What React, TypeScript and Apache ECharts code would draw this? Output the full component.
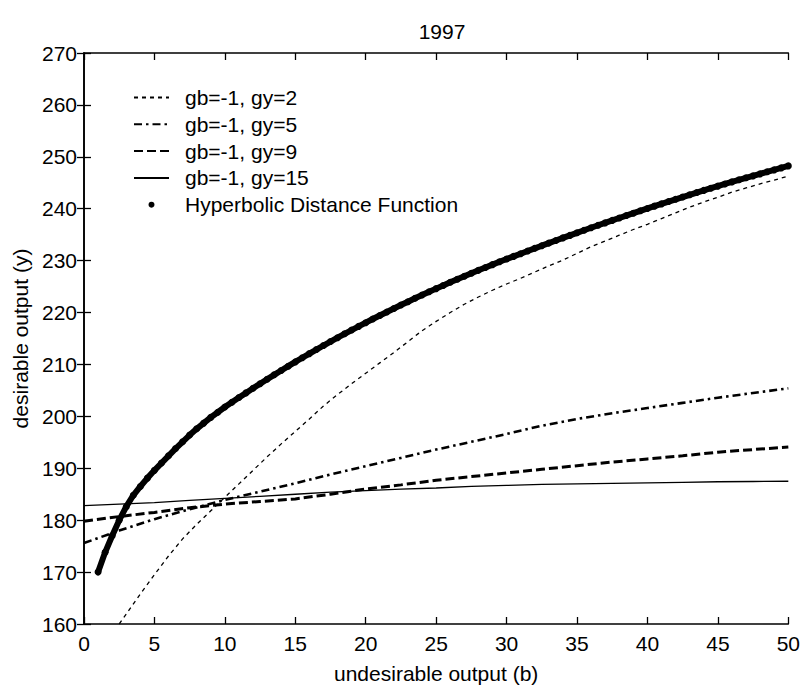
import React, { useEffect, useRef } from "react";
import * as echarts from "echarts";

const title = "1997";
const xName = "undesirable output (b)";
const yName = "desirable output (y)";

const seriesNames = [
  "gb=-1, gy=2",
  "gb=-1, gy=5",
  "gb=-1, gy=9",
  "gb=-1, gy=15",
  "Hyperbolic Distance Function",
];

// gb=-1, gy=2
const xGy2 = [2.5, 3, 4, 5, 6, 7, 8, 9, 10, 11, 12, 13, 14, 15, 16, 17, 18, 19, 20, 21, 22, 23, 24, 25, 26, 27, 28, 29, 30, 31, 32, 33, 34, 35, 36, 37, 38, 39, 40, 41, 42, 43, 44, 45, 46, 47, 48, 49, 50];
const yGy2 = [160.0, 161.9, 165.8, 169.5, 173.1, 176.4, 179.2, 181.8, 184.4, 187.0, 189.6, 192.2, 194.7, 197.1, 199.5, 202.0, 204.2, 206.3, 208.3, 210.3, 212.3, 214.4, 216.5, 218.3, 220.0, 221.6, 223.0, 224.3, 225.5, 226.6, 227.8, 229.0, 230.1, 231.4, 232.7, 233.8, 234.9, 236.0, 237.0, 238.1, 239.2, 240.3, 241.3, 242.2, 243.2, 244.0, 244.8, 245.5, 246.3];

// shared x for the three flatter curves
const xFlat = [0, 2.5, 5, 7.5, 10, 12.5, 15, 17.5, 20, 22.5, 25, 27.5, 30, 32.5, 35, 37.5, 40, 42.5, 45, 47.5, 50];
const yGy5 = [175.6, 178.0, 180.2, 182.1, 183.9, 185.5, 187.1, 188.8, 190.4, 192.0, 193.6, 195.1, 196.6, 198.2, 199.5, 200.6, 201.6, 202.6, 203.6, 204.5, 205.4];
const yGy9 = [179.8, 180.7, 181.5, 182.4, 183.1, 183.6, 184.1, 185.0, 186.0, 186.8, 187.7, 188.4, 189.1, 189.8, 190.5, 191.2, 191.8, 192.4, 193.1, 193.6, 194.1];
const yGy15 = [182.8, 183.1, 183.4, 183.8, 184.2, 184.6, 185.0, 185.4, 185.7, 186.0, 186.2, 186.5, 186.7, 186.9, 187.0, 187.1, 187.2, 187.3, 187.4, 187.45, 187.5];

// Hyperbolic distance function
const xHyp = [1, 1.5, 2, 2.5, 3, 3.5, 4, 4.5, 5, 5.5, 6, 6.5, 7, 7.5, 8, 8.5, 9, 9.5, 10, 10.5, 11, 11.5, 12, 12.5, 13, 13.5, 14, 14.5, 15, 15.5, 16, 16.5, 17, 17.5, 18, 18.5, 19, 19.5, 20, 20.5, 21, 21.5, 22, 22.5, 23, 23.5, 24, 24.5, 25, 25.5, 26, 26.5, 27, 27.5, 28, 28.5, 29, 29.5, 30, 30.5, 31, 31.5, 32, 32.5, 33, 33.5, 34, 34.5, 35, 35.5, 36, 36.5, 37, 37.5, 38, 38.5, 39, 39.5, 40, 40.5, 41, 41.5, 42, 42.5, 43, 43.5, 44, 44.5, 45, 45.5, 46, 46.5, 47, 47.5, 48, 48.5, 49, 49.5, 50];
const yHyp = [
  170.0, 173.8, 177.0, 180.0, 182.6, 184.8, 186.5, 188.1, 189.6, 191.0, 192.4, 193.8, 195.1, 196.4, 197.6, 198.7, 199.8, 200.8, 201.8,
  202.72, 203.63, 204.52, 205.41, 206.28, 207.15, 208.0, 208.84, 209.67, 210.49, 211.29, 212.09, 212.87, 213.65, 214.41, 215.16, 215.9, 216.63, 217.34, 218.05,
  218.75, 219.43, 220.11, 220.78, 221.44, 222.09, 222.74, 223.37, 224.0, 224.61, 225.22, 225.82, 226.41, 226.99, 227.57, 228.13, 228.69, 229.23, 229.77, 230.3,
  230.82, 231.34, 231.86, 232.37, 232.88, 233.38, 233.88, 234.38, 234.87, 235.36, 235.85, 236.33, 236.81, 237.28, 237.75, 238.22, 238.68, 239.14, 239.6, 240.05,
  240.5, 240.94, 241.38, 241.82, 242.25, 242.68, 243.11, 243.53, 243.95, 244.36, 244.77, 245.17, 245.57, 245.96, 246.33, 246.72, 247.11, 247.49, 247.87, 248.25,
];

const xTicks = { min: 0, max: 50, interval: 5 };
const yTicks = { min: 160, max: 270, interval: 10 };

const pairs = (xs: number[], ys: number[]) => xs.map((x, i) => [x, ys[i]]);

const FONT = "Liberation Sans, Arial, Helvetica, sans-serif";
const FS = 21;

export default function App() {
  const ref = useRef<HTMLDivElement>(null);
  useEffect(() => {
    if (!ref.current) return;
    const chart = echarts.init(ref.current, undefined, { renderer: "svg" });
    const axisLine = { show: true, lineStyle: { color: "#000", width: 1.6 } };
    const tick = { show: true, inside: true, length: 7, lineStyle: { color: "#000", width: 1.3 } };
    const label = { color: "#000", fontSize: FS, fontFamily: FONT };
    const option: any = {
      animation: false,
      backgroundColor: "#fff",
      title: {
        text: title,
        left: 437,
        top: 16,
        textAlign: "center",
        textStyle: { fontSize: FS, fontWeight: "normal", color: "#000", fontFamily: FONT },
      },
      grid: { left: 84, right: 11, top: 53, bottom: 59, containLabel: false },
      legend: {
        orient: "vertical",
        left: 133,
        top: 87,
        padding: 0,
        itemWidth: 35,
        itemHeight: 6,
        itemGap: 5.8,
        selectedMode: false,
        textStyle: { fontSize: FS, color: "#000", fontFamily: FONT, padding: [0, 0, 0, 11] },
        itemStyle: { opacity: 0 },
        data: [
          { name: seriesNames[0] },
          { name: seriesNames[1] },
          { name: seriesNames[2] },
          { name: seriesNames[3] },
          { name: seriesNames[4], icon: "circle", itemStyle: { opacity: 1, color: "#000" } },
        ],
      },
      xAxis: [
        {
          type: "value",
          ...xTicks,
          name: xName,
          nameLocation: "middle",
          nameGap: 39,
          nameTextStyle: { fontSize: FS, color: "#000", fontFamily: FONT },
          axisLine,
          axisTick: tick,
          axisLabel: { ...label, margin: 9 },
          splitLine: { show: false },
        },
        {
          type: "value",
          ...xTicks,
          position: "top",
          axisLine,
          axisTick: tick,
          axisLabel: { show: false },
          splitLine: { show: false },
        },
      ],
      yAxis: [
        {
          type: "value",
          ...yTicks,
          name: yName,
          nameLocation: "middle",
          nameGap: 51,
          nameTextStyle: { fontSize: FS, color: "#000", fontFamily: FONT },
          axisLine,
          axisTick: tick,
          axisLabel: { ...label, margin: 7 },
          splitLine: { show: false },
        },
        {
          type: "value",
          ...yTicks,
          position: "right",
          axisLine,
          axisTick: tick,
          axisLabel: { show: false },
          splitLine: { show: false },
        },
      ],
      series: [
        {
          name: seriesNames[0],
          type: "line",
          data: pairs(xGy2, yGy2),
          symbol: "none",
          lineStyle: { color: "#000", width: 1.3, type: [4, 4] },
          z: 3,
        },
        {
          name: seriesNames[1],
          type: "line",
          data: pairs(xFlat, yGy5),
          symbol: "none",
          lineStyle: { color: "#000", width: 2.6, type: [8, 4, 2.5, 4] },
          z: 3,
        },
        {
          name: seriesNames[2],
          type: "line",
          data: pairs(xFlat, yGy9),
          symbol: "none",
          lineStyle: { color: "#000", width: 3, type: [9, 4] },
          z: 3,
        },
        {
          name: seriesNames[3],
          type: "line",
          data: pairs(xFlat, yGy15),
          symbol: "none",
          lineStyle: { color: "#000", width: 1.3 },
          z: 3,
        },
        {
          name: seriesNames[4],
          type: "line",
          data: pairs(xHyp, yHyp),
          symbol: "circle",
          symbolSize: 7,
          showAllSymbol: true,
          itemStyle: { color: "#000" },
          lineStyle: { color: "#000", width: 6 },
          z: 4,
        },
      ],
    };
    chart.setOption(option);
    return () => chart.dispose();
  }, []);
  return (
    <div
      ref={ref}
      style={{ position: "absolute", left: 0, top: 0, width: 803, height: 689 }}
    />
  );
}
